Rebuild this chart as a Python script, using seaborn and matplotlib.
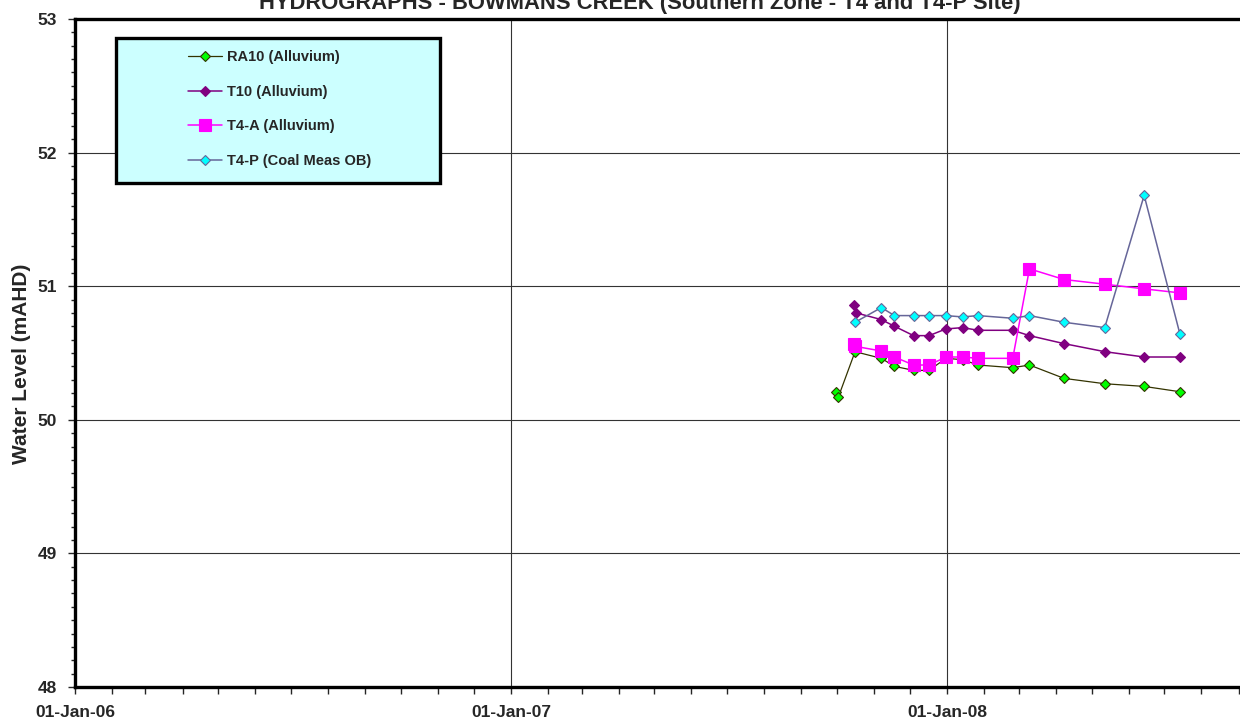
import matplotlib
matplotlib.use("Agg")
import matplotlib.pyplot as plt
import matplotlib.dates as mdates
from matplotlib.patches import Rectangle
import seaborn as sns
import pandas as pd

# ---------------- data ----------------
ra10_dates = ["2007-09-30", "2007-10-02", "2007-10-16", "2007-11-07", "2007-11-18",
              "2007-12-04", "2007-12-17", "2007-12-31", "2008-01-14", "2008-01-27",
              "2008-02-25", "2008-03-10", "2008-04-08", "2008-05-12", "2008-06-14",
              "2008-07-14"]
ra10_vals = [50.21, 50.17, 50.51, 50.46, 50.40, 50.37, 50.37, 50.46, 50.45, 50.41,
             50.39, 50.41, 50.31, 50.27, 50.25, 50.21]

t10_dates = ["2007-10-15", "2007-10-17", "2007-11-07", "2007-11-18", "2007-12-04",
             "2007-12-17", "2007-12-31", "2008-01-14", "2008-01-27", "2008-02-25",
             "2008-03-10", "2008-04-08", "2008-05-12", "2008-06-14", "2008-07-14"]
t10_vals = [50.86, 50.80, 50.75, 50.70, 50.63, 50.63, 50.68, 50.69, 50.67, 50.67,
            50.63, 50.57, 50.51, 50.47, 50.47]

t4a_dates = ["2007-10-15", "2007-10-16", "2007-11-07", "2007-11-18", "2007-12-04",
             "2007-12-17", "2007-12-31", "2008-01-14", "2008-01-27", "2008-02-25",
             "2008-03-10", "2008-04-08", "2008-05-12", "2008-06-14", "2008-07-14"]
t4a_vals = [50.57, 50.55, 50.515, 50.47, 50.41, 50.41, 50.47, 50.47, 50.46, 50.46,
            51.13, 51.05, 51.015, 50.98, 50.95]

t4p_dates = ["2007-10-16", "2007-11-07", "2007-11-18", "2007-12-04", "2007-12-17",
             "2007-12-31", "2008-01-14", "2008-01-27", "2008-02-25", "2008-03-10",
             "2008-04-08", "2008-05-12", "2008-06-14", "2008-07-14"]
t4p_vals = [50.73, 50.84, 50.78, 50.78, 50.78, 50.78, 50.77, 50.78, 50.76, 50.78,
            50.73, 50.69, 51.68, 50.64]

labels = ["RA10 (Alluvium)", "T10 (Alluvium)", "T4-A (Alluvium)", "T4-P (Coal Meas OB)"]
title = "HYDROGRAPHS - BOWMANS CREEK (Southern Zone - T4 and T4-P Site)"
ylabel = "Water Level (mAHD)"

# ---------------- style ----------------
sns.set_style("ticks")
plt.rcParams["font.family"] = ["Liberation Sans", "DejaVu Sans"]
plt.rcParams["font.weight"] = "bold"

fig = plt.figure(figsize=(12.4, 7.24), dpi=100)
ax = fig.add_axes([75 / 1240, 1 - 687 / 724, 1.02 - 75 / 1240, (687 - 19) / 724])
ax_w_px = 1.02 * 1240 - 75

series = [
    (ra10_dates, ra10_vals, dict(color="#333300", marker="D", markersize=4.6,
                                 markerfacecolor="#00FF00", markeredgecolor="#333300",
                                 markeredgewidth=0.8, linewidth=0.9)),
    (t10_dates, t10_vals, dict(color="#800080", marker="D", markersize=5.0,
                               markerfacecolor="#800080", markeredgecolor="#800080",
                               markeredgewidth=0.8, linewidth=1.1)),
    (t4a_dates, t4a_vals, dict(color="#FF00FF", marker="s", markersize=8.0,
                               markerfacecolor="#FF00FF", markeredgecolor="#FF00FF",
                               markeredgewidth=0.8, linewidth=1.1)),
    (t4p_dates, t4p_vals, dict(color="#666699", marker="D", markersize=4.8,
                               markerfacecolor="#00FFFF", markeredgecolor="#666699",
                               markeredgewidth=0.8, linewidth=1.1)),
]

for (d, v, kw), lab in zip(series, labels):
    df = pd.DataFrame({"date": pd.to_datetime(d), "val": v})
    sns.lineplot(data=df, x="date", y="val", ax=ax, sort=False, estimator=None,
                 label=lab, zorder=6, **kw)

# axes
ax.set_xlim(pd.Timestamp("2006-01-01"), pd.Timestamp("2008-09-23"))
ax.set_ylim(48, 53)
ax.set_yticks([48, 49, 50, 51, 52, 53])
ax.yaxis.set_minor_locator(plt.MultipleLocator(0.1))
ax.xaxis.set_major_locator(mdates.YearLocator())
ax.xaxis.set_minor_locator(mdates.MonthLocator())
ax.xaxis.set_major_formatter(mdates.DateFormatter("%d-%b-%y"))

ax.grid(True, which="major", color="#333333", linewidth=0.8)
ax.set_axisbelow(True)

for s in ["left", "bottom", "top"]:
    ax.spines[s].set_linewidth(2.4)
    ax.spines[s].set_color("black")
ax.spines["right"].set_visible(False)

ax.tick_params(axis="x", which="major", length=5, width=1, direction="out", pad=8,
               labelsize=12.5)
ax.tick_params(axis="x", which="minor", length=5, width=1, direction="out")
ax.tick_params(axis="y", which="major", length=5, width=1, direction="out", pad=8,
               labelsize=12.5)
ax.tick_params(axis="y", which="minor", length=3, width=1, direction="out")
for t in ax.get_xticklabels() + ax.get_yticklabels():
    t.set_fontweight("bold")

ax.set_xlabel("")
ax.set_ylabel(ylabel, fontsize=15, fontweight="bold")
ax.yaxis.set_label_coords((31 - 75) / ax_w_px, (687 - 364) / 668)

# legend box + legend
rect = Rectangle((116 / 1240, 1 - 183 / 724), 324 / 1240, 145 / 724,
                 transform=fig.transFigure, facecolor="#CCFFFF", edgecolor="black",
                 linewidth=2.4, zorder=3, clip_on=False)
ax.add_patch(rect)
leg = ax.legend(loc="upper left", bbox_to_anchor=(188 / 1240, 1 - 50 / 724),
                bbox_transform=fig.transFigure, frameon=False, borderpad=0,
                handlelength=2.3, handletextpad=0.4, labelspacing=1.42,
                prop=dict(size=10.5, weight="bold"), borderaxespad=0)
leg.set_zorder(8)

fig.text(0.516, 1 - 8.5 / 724, title, ha="center", va="baseline",
         fontsize=15.8, fontweight="bold")

fig.savefig("out.png", dpi=100)
